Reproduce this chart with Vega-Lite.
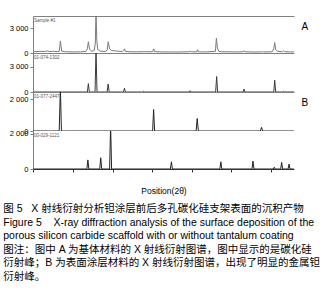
{
  "$schema": "https://vega.github.io/schema/vega-lite/v6.json",
  "padding": {"left": 3, "top": 16, "right": 0, "bottom": 0},
  "background": "white",
  "config": {
    "font": "Liberation Sans",
    "view": {"stroke": null},
    "axis": {"grid": false, "domainColor": "#808080", "tickColor": "#808080", "labelColor": "#000", "labelFont": "Liberation Sans", "labelFontSize": 7.5, "titleFont": "Liberation Sans"},
    "axisY": {"tickSize": 3, "labelPadding": 2, "title": null, "format": ",d", "labelExpr": "replace(datum.label, ',', ' ')", "labelOverlap": false, "labelBound": false}
  },
  "bounds": "flush",
  "spacing": 0,
  "data": {"values": [
    {"panel": "A1", "x": 22.9, "y": 150}, {"panel": "A1", "x": 23.5, "y": 170}, {"panel": "A1", "x": 24.5, "y": 200}, {"panel": "A1", "x": 25.2, "y": 180}, {"panel": "A1", "x": 25.8, "y": 240}, {"panel": "A1", "x": 26.3, "y": 180}, {"panel": "A1", "x": 27.0, "y": 210}, {"panel": "A1", "x": 27.8, "y": 160}, {"panel": "A1", "x": 28.2, "y": 200}, {"panel": "A1", "x": 28.45, "y": 1450}, {"panel": "A1", "x": 28.7, "y": 220}, {"panel": "A1", "x": 29.5, "y": 150}, {"panel": "A1", "x": 31.0, "y": 130}, {"panel": "A1", "x": 32.5, "y": 140}, {"panel": "A1", "x": 33.6, "y": 180}, {"panel": "A1", "x": 33.9, "y": 500}, {"panel": "A1", "x": 34.1, "y": 1350}, {"panel": "A1", "x": 34.35, "y": 450}, {"panel": "A1", "x": 34.8, "y": 200}, {"panel": "A1", "x": 35.3, "y": 300}, {"panel": "A1", "x": 35.5, "y": 1200}, {"panel": "A1", "x": 35.65, "y": 5000}, {"panel": "A1", "x": 35.8, "y": 1500}, {"panel": "A1", "x": 36.0, "y": 400}, {"panel": "A1", "x": 36.5, "y": 220}, {"panel": "A1", "x": 37.5, "y": 180}, {"panel": "A1", "x": 37.9, "y": 350}, {"panel": "A1", "x": 38.12, "y": 1350}, {"panel": "A1", "x": 38.4, "y": 500}, {"panel": "A1", "x": 38.8, "y": 300}, {"panel": "A1", "x": 39.5, "y": 250}, {"panel": "A1", "x": 40.0, "y": 220}, {"panel": "A1", "x": 41.0, "y": 180}, {"panel": "A1", "x": 41.25, "y": 300}, {"panel": "A1", "x": 41.4, "y": 500}, {"panel": "A1", "x": 41.6, "y": 200}, {"panel": "A1", "x": 42.5, "y": 150}, {"panel": "A1", "x": 44.0, "y": 140}, {"panel": "A1", "x": 45.2, "y": 150}, {"panel": "A1", "x": 45.35, "y": 220}, {"panel": "A1", "x": 45.5, "y": 150}, {"panel": "A1", "x": 47.1, "y": 160}, {"panel": "A1", "x": 47.3, "y": 500}, {"panel": "A1", "x": 47.5, "y": 160}, {"panel": "A1", "x": 49.0, "y": 130}, {"panel": "A1", "x": 52.0, "y": 120}, {"panel": "A1", "x": 54.5, "y": 150}, {"panel": "A1", "x": 54.7, "y": 230}, {"panel": "A1", "x": 54.9, "y": 140}, {"panel": "A1", "x": 56.0, "y": 150}, {"panel": "A1", "x": 56.15, "y": 400}, {"panel": "A1", "x": 56.35, "y": 140}, {"panel": "A1", "x": 58.0, "y": 130}, {"panel": "A1", "x": 59.8, "y": 200}, {"panel": "A1", "x": 60.0, "y": 1770}, {"panel": "A1", "x": 60.2, "y": 600}, {"panel": "A1", "x": 60.5, "y": 200}, {"panel": "A1", "x": 61.0, "y": 150}, {"panel": "A1", "x": 64.0, "y": 130}, {"panel": "A1", "x": 65.45, "y": 150}, {"panel": "A1", "x": 65.6, "y": 280}, {"panel": "A1", "x": 65.8, "y": 140}, {"panel": "A1", "x": 68.0, "y": 120}, {"panel": "A1", "x": 69.1, "y": 130}, {"panel": "A1", "x": 69.3, "y": 200}, {"panel": "A1", "x": 69.5, "y": 120}, {"panel": "A1", "x": 71.3, "y": 150}, {"panel": "A1", "x": 71.6, "y": 500}, {"panel": "A1", "x": 71.8, "y": 1250}, {"panel": "A1", "x": 72.0, "y": 400}, {"panel": "A1", "x": 72.4, "y": 200}, {"panel": "A1", "x": 73.4, "y": 150}, {"panel": "A1", "x": 73.6, "y": 260}, {"panel": "A1", "x": 73.8, "y": 150}, {"panel": "A1", "x": 75.0, "y": 130}, {"panel": "A1", "x": 75.7, "y": 130},
    {"panel": "A2", "x": 22.9, "y": 0}, {"panel": "A2", "x": 33.9, "y": 0}, {"panel": "A2", "x": 34.1, "y": 1000}, {"panel": "A2", "x": 34.3, "y": 0}, {"panel": "A2", "x": 35.45, "y": 0}, {"panel": "A2", "x": 35.65, "y": 5000}, {"panel": "A2", "x": 35.85, "y": 0}, {"panel": "A2", "x": 37.9, "y": 0}, {"panel": "A2", "x": 38.1, "y": 950}, {"panel": "A2", "x": 38.3, "y": 0}, {"panel": "A2", "x": 41.2, "y": 0}, {"panel": "A2", "x": 41.4, "y": 450}, {"panel": "A2", "x": 41.6, "y": 0}, {"panel": "A2", "x": 45.1, "y": 0}, {"panel": "A2", "x": 45.3, "y": 100}, {"panel": "A2", "x": 45.5, "y": 0}, {"panel": "A2", "x": 54.5, "y": 0}, {"panel": "A2", "x": 54.7, "y": 150}, {"panel": "A2", "x": 54.9, "y": 0}, {"panel": "A2", "x": 59.85, "y": 0}, {"panel": "A2", "x": 60.05, "y": 1850}, {"panel": "A2", "x": 60.25, "y": 0}, {"panel": "A2", "x": 65.4, "y": 0}, {"panel": "A2", "x": 65.6, "y": 350}, {"panel": "A2", "x": 65.8, "y": 0}, {"panel": "A2", "x": 71.6, "y": 0}, {"panel": "A2", "x": 71.8, "y": 1400}, {"panel": "A2", "x": 72.0, "y": 0}, {"panel": "A2", "x": 73.4, "y": 0}, {"panel": "A2", "x": 73.6, "y": 100}, {"panel": "A2", "x": 73.8, "y": 0}, {"panel": "A2", "x": 75.7, "y": 0},
    {"panel": "B1", "x": 22.9, "y": 0}, {"panel": "B1", "x": 28.2, "y": 0}, {"panel": "B1", "x": 28.44, "y": 2700}, {"panel": "B1", "x": 28.65, "y": 0}, {"panel": "B1", "x": 47.1, "y": 0}, {"panel": "B1", "x": 47.3, "y": 1340}, {"panel": "B1", "x": 47.5, "y": 0}, {"panel": "B1", "x": 55.9, "y": 0}, {"panel": "B1", "x": 56.12, "y": 780}, {"panel": "B1", "x": 56.35, "y": 0}, {"panel": "B1", "x": 68.9, "y": 0}, {"panel": "B1", "x": 69.13, "y": 230}, {"panel": "B1", "x": 69.35, "y": 0}, {"panel": "B1", "x": 75.7, "y": 0},
    {"panel": "B2", "x": 22.9, "y": 0}, {"panel": "B2", "x": 33.8, "y": 0}, {"panel": "B2", "x": 34.0, "y": 520}, {"panel": "B2", "x": 34.2, "y": 0}, {"panel": "B2", "x": 36.4, "y": 0}, {"panel": "B2", "x": 36.6, "y": 640}, {"panel": "B2", "x": 36.8, "y": 0}, {"panel": "B2", "x": 38.4, "y": 0}, {"panel": "B2", "x": 38.6, "y": 2500}, {"panel": "B2", "x": 38.8, "y": 0}, {"panel": "B2", "x": 50.7, "y": 0}, {"panel": "B2", "x": 50.9, "y": 410}, {"panel": "B2", "x": 51.1, "y": 0}, {"panel": "B2", "x": 60.7, "y": 0}, {"panel": "B2", "x": 60.9, "y": 410}, {"panel": "B2", "x": 61.1, "y": 0}, {"panel": "B2", "x": 67.2, "y": 0}, {"panel": "B2", "x": 67.4, "y": 450}, {"panel": "B2", "x": 67.6, "y": 0}, {"panel": "B2", "x": 71.5, "y": 0}, {"panel": "B2", "x": 71.7, "y": 100}, {"panel": "B2", "x": 71.9, "y": 0}, {"panel": "B2", "x": 73.0, "y": 0}, {"panel": "B2", "x": 73.2, "y": 380}, {"panel": "B2", "x": 73.4, "y": 0}, {"panel": "B2", "x": 74.5, "y": 0}, {"panel": "B2", "x": 74.7, "y": 280}, {"panel": "B2", "x": 74.9, "y": 0}, {"panel": "B2", "x": 75.7, "y": 0}
  ]},
  "vconcat": [
    {
      "width": 261, "height": 37,
      "layer": [
        {"transform": [{"filter": "datum.panel === 'A1'"}],
         "mark": {"type": "line", "color": "#7a7a7a", "strokeWidth": 1, "clip": true},
         "encoding": {
           "x": {"field": "x", "type": "quantitative", "scale": {"domain": [22.9, 75.7], "nice": false, "zero": false}, "axis": {"orient": "top", "labels": false, "ticks": false, "title": null}},
           "y": {"field": "y", "type": "quantitative", "scale": {"domain": [0, 4450], "nice": false}, "axis": {"values": [0, 1000, 2000, 3000]}}
         }},
        {"data": {"values": [{"label": "Sample #1"}]},
         "mark": {"type": "text", "align": "left", "baseline": "top", "fontSize": 4.5, "color": "#555", "dy": 1.5},
         "encoding": {"x": {"datum": 23.1, "type": "quantitative"}, "y": {"datum": 4450, "type": "quantitative"}, "text": {"field": "label"}}},
        {"data": {"values": [{"label": "A"}]},
         "mark": {"type": "text", "align": "center", "baseline": "middle", "fontSize": 10, "color": "#000"},
         "encoding": {"x": {"datum": 77.9, "type": "quantitative"}, "y": {"datum": 3130, "type": "quantitative"}, "text": {"field": "label"}}}
      ]
    },
    {
      "width": 261, "height": 39,
      "layer": [
        {"transform": [{"filter": "datum.panel === 'A2'"}],
         "mark": {"type": "line", "color": "#3a3a3a", "strokeWidth": 1, "clip": true},
         "encoding": {
           "x": {"field": "x", "type": "quantitative", "scale": {"domain": [22.9, 75.7], "nice": false, "zero": false}, "axis": {"orient": "top", "labels": false, "ticks": false, "title": null}},
           "y": {"field": "y", "type": "quantitative", "scale": {"domain": [0, 4650], "nice": false}, "axis": {"values": [0, 1000, 2000, 3000]}}
         }},
        {"data": {"values": [{"label": "01-074-1302"}]},
         "mark": {"type": "text", "align": "left", "baseline": "top", "fontSize": 4.5, "color": "#555", "dy": 1.5},
         "encoding": {"x": {"datum": 23.1, "type": "quantitative"}, "y": {"datum": 4650, "type": "quantitative"}, "text": {"field": "label"}}}
      ]
    },
    {
      "width": 261, "height": 39,
      "layer": [
        {"transform": [{"filter": "datum.panel === 'B1'"}],
         "mark": {"type": "line", "color": "#222", "strokeWidth": 1, "clip": true},
         "encoding": {
           "x": {"field": "x", "type": "quantitative", "scale": {"domain": [22.9, 75.7], "nice": false, "zero": false}, "axis": {"orient": "top", "labels": false, "ticks": false, "title": null}},
           "y": {"field": "y", "type": "quantitative", "scale": {"domain": [0, 2440], "nice": false}, "axis": {"values": [0, 1000, 2000]}}
         }},
        {"data": {"values": [{"label": "01-077-2447"}]},
         "mark": {"type": "text", "align": "left", "baseline": "top", "fontSize": 4.5, "color": "#555", "dy": 1.5},
         "encoding": {"x": {"datum": 23.1, "type": "quantitative"}, "y": {"datum": 2440, "type": "quantitative"}, "text": {"field": "label"}}},
        {"data": {"values": [{"label": "B"}]},
         "mark": {"type": "text", "align": "center", "baseline": "middle", "fontSize": 10, "color": "#000"},
         "encoding": {"x": {"datum": 77.9, "type": "quantitative"}, "y": {"datum": 1760, "type": "quantitative"}, "text": {"field": "label"}}}
      ]
    },
    {
      "width": 261, "height": 38,
      "layer": [
        {"transform": [{"filter": "datum.panel === 'B2'"}],
         "mark": {"type": "line", "color": "#222", "strokeWidth": 1, "clip": true},
         "encoding": {
           "x": {"field": "x", "type": "quantitative", "scale": {"domain": [22.9, 75.7], "nice": false, "zero": false},
                 "axis": {"orient": "bottom", "values": [23, 24, 25, 26, 27, 28, 29, 30, 31, 32, 33, 34, 35, 36, 37, 38, 39, 40, 41, 42, 43, 44, 45, 46, 47, 48, 49, 50, 51, 52, 53, 54, 55, 56, 57, 58, 59, 60, 61, 62, 63, 64, 65, 66, 67, 68, 69, 70, 71, 72, 73, 74, 75],
                          "labelExpr": "datum.value % 10 === 0 ? datum.label : ''", "labelOverlap": false, "labelFontSize": 7.5, "labelPadding": 3,
                          "domainColor": "#333", "tickColor": "#333",
                          "tickSize": {"condition": {"test": "datum.value % 10 === 0", "value": 5}, "value": 3},
                          "title": "Position(2θ)", "titleFontSize": 8.5, "titleFontWeight": "normal", "titlePadding": 4, "titleColor": "#000"}},
           "y": {"field": "y", "type": "quantitative", "scale": {"domain": [0, 2170], "nice": false}, "axis": {"values": [0, 1000, 2000]}}
         }},
        {"data": {"values": [{"label": "00-029-1121"}]},
         "mark": {"type": "text", "align": "left", "baseline": "top", "fontSize": 4.5, "color": "#555", "dy": 1.5},
         "encoding": {"x": {"datum": 23.1, "type": "quantitative"}, "y": {"datum": 2170, "type": "quantitative"}, "text": {"field": "label"}}}
      ]
    }
  ],
  "title": {
    "text": ["图 5\u00a0\u00a0 X 射线衍射分析钽涂层前后多孔碳化硅支架表面的沉积产物", "Figure 5\u00a0\u00a0\u00a0 X-ray diffraction analysis of the surface deposition of the", "porous silicon carbide scaffold with or without tantalum coating", "图注：图中 A 为基体材料的 X 射线衍射图谱，图中显示的是碳化硅", "衍射峰；B 为表面涂层材料的 X 射线衍射图谱，出现了明显的金属钽", "衍射峰。"],
    "orient": "bottom", "anchor": "start", "frame": "bounds",
    "font": "Liberation Sans, Noto Sans CJK SC", "fontSize": 10.5, "fontWeight": "normal", "color": "#000",
    "lineHeight": 13.5, "offset": 9, "dx": -6
  }
}
